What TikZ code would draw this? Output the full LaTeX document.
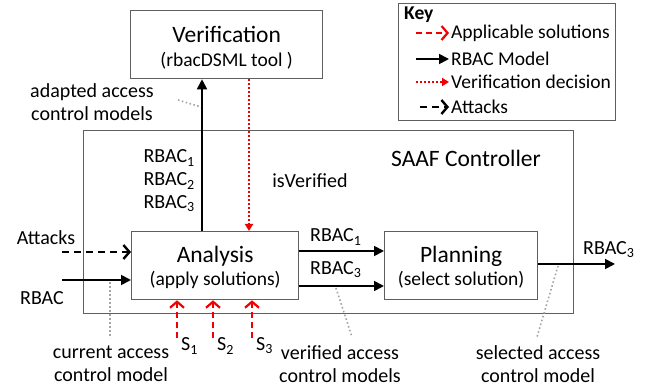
\documentclass[tikz,border=0pt]{standalone}
\usepackage{fontspec}
\setmainfont{Carlito}
\usetikzlibrary{arrows.meta}
\definecolor{boxgray}{RGB}{95,95,95}
\definecolor{myred}{RGB}{240,0,0}
\definecolor{leadgray}{RGB}{165,165,165}
\newcommand{\fbig}{\fontsize{23.5}{25}\selectfont}
\newcommand{\fmid}{\fontsize{19.5}{22}\selectfont}
\newcommand{\flab}{\fontsize{20}{23}\selectfont}
\begin{document}
\begin{tikzpicture}[x=1pt,y=-1pt,
  box/.style={draw=boxgray, line width=1.3pt, fill=white, inner sep=0pt, anchor=north west},
  ttl/.style={font=\fbig, inner sep=0pt, anchor=base},
  sub/.style={font=\fmid, inner sep=0pt, anchor=base},
  lbl/.style={font=\flab, inner sep=0pt, align=center},
  model/.style={line width=1.8pt, -{Triangle[length=10pt,width=10pt]}},
  attack/.style={line width=1.8pt, dash pattern=on 7pt off 5pt, -{Straight Barb[length=6pt,width=14pt,line width=2.4pt]}},
  sol/.style={myred, line width=1.8pt, dash pattern=on 6pt off 4pt, -{Straight Barb[length=6pt,width=14pt,line width=2.2pt]}},
  verdec/.style={myred, line width=1.8pt, dash pattern=on 2pt off 2pt, -{Triangle[length=7pt,width=8pt]}},
  leader/.style={leadgray, line width=1.6pt, dash pattern=on 1.6pt off 2.4pt}
]
\useasboundingbox (0,0) rectangle (648,387);

% boxes
\node[box, minimum width=490pt, minimum height=183pt] (saaf) at (83,130) {};
\node[box, minimum width=192pt, minimum height=68pt] (verif) at (130,10) {};
\node[box, minimum width=217pt, minimum height=117pt] (key) at (398,3) {};
\node[box, minimum width=167pt, minimum height=68pt] (analysis) at (131,231) {};
\node[box, minimum width=153pt, minimum height=68pt] (planning) at (384,231) {};

\node[ttl] (verift) at ([yshift=-33pt]verif.north) {Verification};
\node[sub] (verifs) at ([yshift=-57pt]verif.north) {(rbacDSML tool )};
\node[ttl] (analysist) at ([yshift=-32pt]analysis.north) {Analysis};
\node[sub] (analysiss) at ([yshift=-55pt]analysis.north) {(apply solutions)};
\node[ttl] (planningt) at ([yshift=-32pt]planning.north) {Planning};
\node[sub] (plannings) at ([yshift=-55pt]planning.north) {(select solution)};

\node[lbl, font=\fbig] (saaflbl) at (466,158) {SAAF Controller};

% coordinates
\coordinate (up) at (202,0);
\coordinate (dn) at (249,0);
\coordinate (atk) at (62,252);
\coordinate (rb) at (62,280);
\coordinate (s1) at (177,338);
\coordinate (s2) at (213,338);
\coordinate (s3) at (252,338);
\coordinate (r1) at (0,251);
\coordinate (r3) at (0,286);
\coordinate (outy) at (0,264);
\coordinate (out) at (615,264);

% connectors
\draw[model] (analysis.north -| up) -- (verif.south -| up);
\draw[verdec] (verif.south -| dn) -- (analysis.north -| dn);
\draw[attack] (atk) -- (atk -| analysis.west);
\draw[model] (rb) -- (rb -| analysis.west);
\draw[sol] (s1) -- (s1 |- analysis.south);
\draw[sol] (s2) -- (s2 |- analysis.south);
\draw[sol] (s3) -- (s3 |- analysis.south);
\draw[model] (analysis.east |- r1) -- (planning.west |- r1);
\draw[model] (analysis.east |- r3) -- (planning.west |- r3);
\draw[model] (planning.east |- outy) -- (out);

% leaders
\coordinate (la1) at (178,100); \coordinate (la2) at (201,107);
\draw[leader] (la1) -- (la2);
\coordinate (lc1) at (110,282); \coordinate (lc2) at (110,338);
\draw[leader] (lc1) -- (lc2);
\coordinate (lv1) at (336,288); \coordinate (lv2) at (352,337);
\draw[leader] (lv1) -- (lv2);
\coordinate (ls1) at (558,266); \coordinate (ls2) at (537,337);
\draw[leader] (ls1) -- (ls2);

% labels
\node[lbl] (adapt) at (92,102) {adapted access\\control models};
\node[lbl, anchor=east] (rb1) at (195,158) {RBAC\textsubscript{1}};
\node[lbl, anchor=east] (rb2) at (195,181) {RBAC\textsubscript{2}};
\node[lbl, anchor=east] (rb3) at (195,204) {RBAC\textsubscript{3}};
\node[lbl] (isv) at (310,181) {isVerified};
\node[lbl] (attl) at (46,238) {Attacks};
\node[lbl] (rbacl) at (42,298) {RBAC};
\node[lbl, anchor=west] (s1l) at (181,346) {S\textsubscript{1}};
\node[lbl, anchor=west] (s2l) at (217,346) {S\textsubscript{2}};
\node[lbl, anchor=west] (s3l) at (256,346) {S\textsubscript{3}};
\node[lbl] (curl) at (111,364) {current access\\control model};
\node[lbl] (verl) at (340,364) {verified access\\control models};
\node[lbl] (sell) at (538,364) {selected access\\control model};
\node[lbl, anchor=west] (pr1) at (310,237) {RBAC\textsubscript{1}};
\node[lbl, anchor=west] (pr3) at (310,270) {RBAC\textsubscript{3}};
\node[lbl, anchor=west] (or3) at (583,250) {RBAC\textsubscript{3}};

% key
\node[lbl, font=\fmid\bfseries, anchor=west] (keyt) at (404,15) {Key};
\coordinate (k1a) at (416,33); \coordinate (k1b) at (449,33);
\coordinate (k2a) at (416,59); \coordinate (k2b) at (449,59);
\coordinate (k3a) at (416,82); \coordinate (k3b) at (449,82);
\coordinate (k4a) at (420,107); \coordinate (k4b) at (449,107);
\draw[sol] (k1a) -- (k1b);
\draw[model] (k2a) -- (k2b);
\draw[verdec] (k3a) -- (k3b);
\draw[attack] (k4a) -- (k4b);
\node[lbl, font=\fmid, anchor=west] (k1t) at (451,33) {Applicable solutions};
\node[lbl, font=\fmid, anchor=west] (k2t) at (451,59) {RBAC Model};
\node[lbl, font=\fmid, anchor=west] (k3t) at (451,82) {Verification decision};
\node[lbl, font=\fmid, anchor=west] (k4t) at (451,107) {Attacks};
\end{tikzpicture}
\end{document}
